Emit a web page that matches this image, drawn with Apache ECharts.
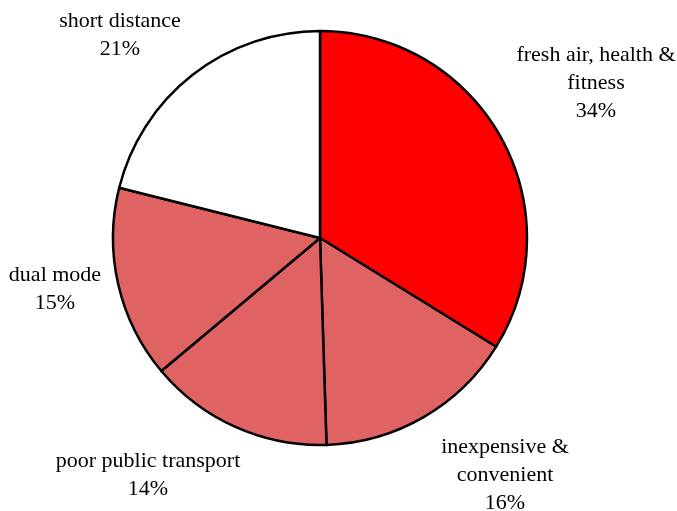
<!DOCTYPE html>
<html><head><meta charset="utf-8">
<script src="https://cdn.jsdelivr.net/npm/echarts@6/dist/echarts.min.js"></script>
<style>html,body{margin:0;padding:0;background:#fff}#c{width:677px;height:511px}</style>
</head><body><div id="c"></div>
<script>
const categories = ['fresh air, health &\nfitness', 'inexpensive &\nconvenient', 'poor public transport', 'dual mode', 'short distance'];
const values = [33.8, 15.7, 14.4, 15.0, 21.1];
const colors = ['#FF0000', '#E06363', '#E06363', '#E06363', '#FFFFFF'];
const labelPos = [[596, 83], [505, 475], [148, 475], [55, 289], [120, 35]];

const chart = echarts.init(document.getElementById('c'), null, {renderer: 'canvas'});
chart.setOption({
  animation: false,
  series: [{
    type: 'pie',
    center: [320, 238],
    radius: 207,
    startAngle: 90,
    clockwise: true,
    data: categories.map((n, i) => ({name: n, value: values[i], itemStyle: {color: colors[i]}})),
    itemStyle: {borderColor: '#000', borderWidth: 2.5},
    label: {
      show: true,
      position: 'outside',
      formatter: p => p.name + '\n' + Math.round(p.percent) + '%',
      fontFamily: 'Liberation Serif',
      fontSize: 22,
      lineHeight: 28,
      color: '#000',
      align: 'center',
      overflow: 'none',
      width: 400
    },
    labelLine: {show: false},
    labelLayout: function (p) {
      const pos = labelPos[p.dataIndex];
      return {x: pos[0], y: pos[1], align: 'center', verticalAlign: 'middle', hideOverlap: false};
    },
    emphasis: {disabled: true}
  }]
});
</script></body></html>
